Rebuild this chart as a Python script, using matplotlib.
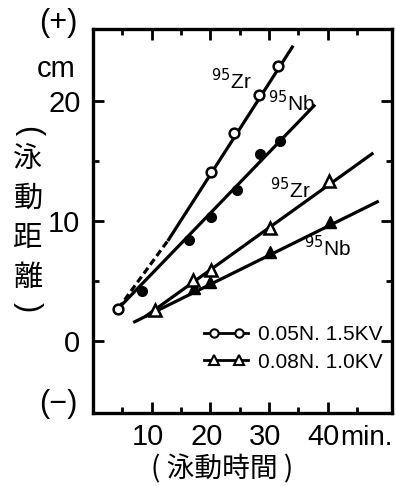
import numpy as np
import matplotlib
matplotlib.use("Agg")
from matplotlib import pyplot as plt
from matplotlib.lines import Line2D
from matplotlib.legend_handler import HandlerLine2D, HandlerTuple
import matplotlib.transforms as mtransforms

# data (time in min, distance in cm)
zr05_t = [4.3, 20.2, 24.1, 28.4, 31.6]
zr05_d = [2.7, 14.1, 17.3, 20.5, 22.9]
nb05_t = [4.3, 8.3, 16.3, 20.2, 24.6, 28.5, 31.9]
nb05_d = [2.7, 4.2, 8.4, 10.3, 12.6, 15.6, 16.65]
zr08_t = [10.5, 17.1, 20.2, 30.2, 40.3]
zr08_d = [2.6, 5.1, 5.9, 9.4, 13.3]
nb08_t = [10.5, 17.3, 20.0, 30.2, 40.5]
nb08_d = [2.6, 4.4, 4.9, 7.4, 9.9]

# drawn fit lines (end points)
zr05_dash_t = [4.3, 12.9]
zr05_dash_d = [2.7, 8.45]
zr05_fit_t = [12.9, 34.0]
zr05_fit_d = [8.45, 24.5]
nb05_fit_t = [4.3, 37.7]
nb05_fit_d = [2.7, 19.6]
zr08_fit_t = [9.1, 47.6]
zr08_fit_d = [2.1, 15.6]
nb08_fit_t = [7.1, 48.5]
nb08_fit_d = [1.6, 11.6]

legend_labels = ["0.05N. 1.5KV", "0.08N. 1.0KV"]
ylabel_chars = ['泳', '動', '距', '離']

num_font = ['Liberation Sans', 'DejaVu Sans']
jp_font = ['Noto Sans CJK JP', 'DejaVu Sans']

fig = plt.figure(figsize=(3.96, 4.86), dpi=100)
ax = fig.add_axes([0.2348, 0.1502, 0.7551, 0.7901])

lw = 2.3
ax.plot(zr05_dash_t, zr05_dash_d, color='k', lw=lw, ls=(0, (2.2, 1.2)))
ax.plot(zr05_fit_t, zr05_fit_d, color='k', lw=lw)
ax.plot(nb05_fit_t, nb05_fit_d, color='k', lw=lw)
ax.plot(zr08_fit_t, zr08_fit_d, color='k', lw=lw)
ax.plot(nb08_fit_t, nb08_fit_d, color='k', lw=lw)

ax.plot(nb05_t, nb05_d, ls='', marker='o', ms=7, mfc='k', mec='k', zorder=3)
ax.plot(zr05_t, zr05_d, ls='', marker='o', ms=7, mfc='w', mec='k', mew=1.8, zorder=3)
ax.plot(nb08_t, nb08_d, ls='', marker='^', ms=8, mfc='k', mec='k', zorder=3)
ax.plot(zr08_t, zr08_d, ls='', marker='^', ms=8, mfc='w', mec='k', mew=1.8, zorder=3)

ax.set_xlim(0, 51)
ax.set_ylim(-6, 26)
ax.set_xticks([10, 20, 30, 40])
ax.set_xticks([5, 15, 25, 35, 45], minor=True)
ax.set_yticks([0, 10, 20])
ax.set_yticks([5, 15], minor=True)
ax.tick_params(which='both', direction='in', top=True, right=True, width=2)
ax.tick_params(which='major', length=8)
ax.tick_params(which='minor', length=4)
ax.tick_params(axis='x', pad=7)
ax.tick_params(axis='y', pad=9)
for lab in ax.get_xticklabels() + ax.get_yticklabels():
    lab.set_family(num_font)
    lab.set_fontsize(21)
# x labels sit a little left of their ticks in the original
shift = mtransforms.ScaledTranslation(-4 / 100, 0, fig.dpi_scale_trans)
for lab in ax.get_xticklabels():
    lab.set_transform(lab.get_transform() + shift)
for sp in ax.spines.values():
    sp.set_linewidth(2.4)

# isotope labels
lab_kw = dict(fontsize=15, ha='center', va='center', family=num_font)
ax.text(23.6, 21.7, r'$^{95}$Zr', **lab_kw)
ax.text(33.8, 19.9, r'$^{95}$Nb', **lab_kw)
ax.text(33.6, 12.6, r'$^{95}$Zr', **lab_kw)
ax.text(40.0, 7.8, r'$^{95}$Nb', **lab_kw)

# legend: a plain line with two markers laid over it
line_a = Line2D([], [], color='k', lw=2)
line_b = Line2D([], [], color='k', lw=2)
mk_a = Line2D([], [], ls='', marker='o', ms=6, mfc='w', mec='k', mew=1.5)
mk_b = Line2D([], [], ls='', marker='^', ms=7, mfc='w', mec='k', mew=1.5)
hmap = {line_a: HandlerLine2D(numpoints=1), line_b: HandlerLine2D(numpoints=1),
        mk_a: HandlerLine2D(numpoints=2, marker_pad=0.45),
        mk_b: HandlerLine2D(numpoints=2, marker_pad=0.45),
        tuple: HandlerTuple(ndivide=1, pad=0)}
ax.legend([(line_a, mk_a), (line_b, mk_b)], legend_labels, handler_map=hmap,
          loc='center left', bbox_to_anchor=(0.31, 0.168), frameon=False,
          handlelength=2.1, handletextpad=0.45, labelspacing=0.4,
          prop={'family': num_font, 'size': 15})

# outer texts
fig.text(0.146, 0.953, '(+)', fontsize=22, ha='center', va='center', family=num_font)
fig.text(0.141, 0.858, 'cm', fontsize=21, ha='center', va='center', family=num_font)
fig.text(0.146, 0.169, '(−)', fontsize=22, ha='center', va='center', family=num_font)
fig.text(0.858, 0.0844, 'min.', fontsize=20, ha='left', va='baseline', family=num_font)

# vertical y label: upright characters, turned brackets
fig.text(0.0707, 1 - 131 / 486, '(', fontsize=22, rotation=-90, ha='center', va='center',
         family=num_font)
for i, ch in enumerate(ylabel_chars):
    fig.text(0.0707, 1 - (159 + 39.5 * i) / 486, ch, fontsize=21, ha='center', va='center',
             family=jp_font)
fig.text(0.0707, 1 - 307 / 486, ')', fontsize=22, rotation=-90, ha='center', va='center',
         family=num_font)

fig.text(0.561, 0.035, '( 泳動時間 )', fontsize=20, ha='center', va='center', family=jp_font)

fig.savefig('out.png', dpi=100)
